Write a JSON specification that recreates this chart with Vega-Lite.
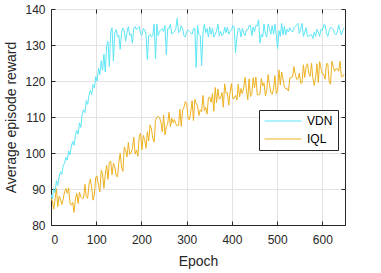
{
 "$schema": "https://vega.github.io/schema/vega-lite/v6.json",
 "width": 294, "height": 216,
 "autosize": {"type": "none"},
 "padding": {"left": 51, "top": 9, "right": 36, "bottom": 48},
 "config": {
  "font": "Liberation Sans",
  "view": {"stroke": "#262626", "strokeWidth": 1},
  "axis": {"gridColor": "#e3e3e3", "gridWidth": 1, "domainColor": "#262626", "tickColor": "#262626", "labelColor": "#262626", "titleColor": "#262626", "labelFontSize": 12, "titleFontSize": 14, "titleFontWeight": "normal", "tickSize": -4}
 },
 "data": {"values": [
{"e":0,"VDN":88.5,"IQL":87.5},{"e":3,"VDN":87.2,"IQL":86.6},{"e":6,"VDN":90.1,"IQL":84.4},{"e":9,"VDN":89.0,"IQL":87.3},{"e":12,"VDN":92.3,"IQL":90.1},{"e":15,"VDN":91.0,"IQL":85.1},{"e":18,"VDN":93.4,"IQL":88.0},{"e":21,"VDN":94.8,"IQL":87.2},{"e":24,"VDN":94.0,"IQL":85.7},{"e":27,"VDN":96.5,"IQL":87.2},
{"e":30,"VDN":97.2,"IQL":89.3},{"e":33,"VDN":98.8,"IQL":90.1},{"e":36,"VDN":98.0,"IQL":88.8},{"e":39,"VDN":100.6,"IQL":90.3},{"e":42,"VDN":99.5,"IQL":86.1},{"e":45,"VDN":101.9,"IQL":85.5},{"e":48,"VDN":103.2,"IQL":86.3},{"e":51,"VDN":102.1,"IQL":83.5},{"e":54,"VDN":105.0,"IQL":87.2},{"e":57,"VDN":106.3,"IQL":88.8},
{"e":60,"VDN":105.2,"IQL":86.0},{"e":63,"VDN":108.4,"IQL":89.1},{"e":66,"VDN":107.1,"IQL":87.8},{"e":69,"VDN":110.8,"IQL":87.3},{"e":72,"VDN":112.0,"IQL":87.5},{"e":75,"VDN":111.2,"IQL":91.3},{"e":78,"VDN":114.6,"IQL":87.9},{"e":81,"VDN":113.5,"IQL":87.4},{"e":84,"VDN":116.0,"IQL":91.2},{"e":87,"VDN":117.4,"IQL":92.8},
{"e":90,"VDN":116.2,"IQL":90.2},{"e":93,"VDN":119.0,"IQL":86.9},{"e":96,"VDN":118.1,"IQL":88.6},{"e":99,"VDN":121.2,"IQL":93.3},{"e":102,"VDN":120.0,"IQL":93.6},{"e":105,"VDN":123.5,"IQL":91.0},{"e":108,"VDN":121.8,"IQL":89.2},{"e":111,"VDN":125.6,"IQL":95.2},{"e":114,"VDN":123.0,"IQL":94.2},{"e":117,"VDN":127.4,"IQL":90.2},
{"e":120,"VDN":122.5,"IQL":94.1},{"e":123,"VDN":129.9,"IQL":96.6},{"e":126,"VDN":131.0,"IQL":92.7},{"e":129,"VDN":124.0,"IQL":97.4},{"e":132,"VDN":133.6,"IQL":97.8},{"e":135,"VDN":134.8,"IQL":93.9},{"e":138,"VDN":125.5,"IQL":97.2},{"e":141,"VDN":133.5,"IQL":96.2},{"e":144,"VDN":134.3,"IQL":93.7},{"e":147,"VDN":132.3,"IQL":93.4},
{"e":150,"VDN":132.7,"IQL":97.4},{"e":153,"VDN":128.8,"IQL":99.9},{"e":156,"VDN":133.5,"IQL":96.0},{"e":159,"VDN":134.7,"IQL":94.9},{"e":162,"VDN":133.9,"IQL":101.7},{"e":165,"VDN":131.0,"IQL":100.7},{"e":168,"VDN":133.5,"IQL":98.9},{"e":171,"VDN":135.1,"IQL":102.9},{"e":174,"VDN":132.7,"IQL":99.6},{"e":177,"VDN":133.1,"IQL":100.0},
{"e":180,"VDN":130.5,"IQL":101.2},{"e":183,"VDN":134.7,"IQL":104.4},{"e":186,"VDN":135.1,"IQL":99.7},{"e":189,"VDN":134.3,"IQL":100.8},{"e":192,"VDN":134.7,"IQL":99.1},{"e":195,"VDN":135.1,"IQL":104.5},{"e":198,"VDN":133.1,"IQL":105.5},{"e":201,"VDN":132.6,"IQL":100.9},{"e":204,"VDN":134.6,"IQL":104.9},{"e":207,"VDN":134.2,"IQL":103.7},
{"e":210,"VDN":133.0,"IQL":101.3},{"e":213,"VDN":126.0,"IQL":105.9},{"e":216,"VDN":132.6,"IQL":103.3},{"e":219,"VDN":133.0,"IQL":107.8},{"e":222,"VDN":132.2,"IQL":106.7},{"e":225,"VDN":132.6,"IQL":104.1},{"e":228,"VDN":135.8,"IQL":103.0},{"e":231,"VDN":126.2,"IQL":109.0},{"e":234,"VDN":135.8,"IQL":109.9},{"e":237,"VDN":132.6,"IQL":110.2},
{"e":240,"VDN":133.8,"IQL":109.8},{"e":243,"VDN":134.2,"IQL":108.6},{"e":246,"VDN":134.6,"IQL":105.9},{"e":249,"VDN":133.8,"IQL":110.5},{"e":252,"VDN":135.4,"IQL":105.0},{"e":255,"VDN":127.3,"IQL":107.3},{"e":258,"VDN":134.6,"IQL":108.2},{"e":261,"VDN":134.6,"IQL":111.3},{"e":264,"VDN":135.8,"IQL":107.3},{"e":267,"VDN":133.0,"IQL":109.7},
{"e":270,"VDN":133.4,"IQL":108.4},{"e":273,"VDN":133.8,"IQL":109.3},{"e":276,"VDN":134.6,"IQL":108.1},{"e":279,"VDN":137.4,"IQL":107.5},{"e":282,"VDN":133.4,"IQL":107.7},{"e":285,"VDN":133.8,"IQL":112.2},{"e":288,"VDN":135.4,"IQL":107.4},{"e":291,"VDN":134.6,"IQL":111.9},{"e":294,"VDN":132.6,"IQL":112.7},{"e":297,"VDN":132.2,"IQL":114.3},
{"e":300,"VDN":133.8,"IQL":113.8},{"e":303,"VDN":134.2,"IQL":109.7},{"e":306,"VDN":133.8,"IQL":109.2},{"e":309,"VDN":133.4,"IQL":111.4},{"e":312,"VDN":133.0,"IQL":114.5},{"e":315,"VDN":134.6,"IQL":109.0},{"e":318,"VDN":134.6,"IQL":114.9},{"e":321,"VDN":123.8,"IQL":113.7},{"e":324,"VDN":135.4,"IQL":113.1},{"e":327,"VDN":133.0,"IQL":110.4},
{"e":330,"VDN":132.6,"IQL":112.0},{"e":333,"VDN":124.3,"IQL":111.5},{"e":336,"VDN":133.4,"IQL":116.0},{"e":339,"VDN":135.8,"IQL":111.8},{"e":342,"VDN":133.4,"IQL":112.7},{"e":345,"VDN":134.6,"IQL":110.8},{"e":348,"VDN":132.2,"IQL":115.3},{"e":351,"VDN":135.0,"IQL":115.5},{"e":354,"VDN":133.0,"IQL":114.1},{"e":357,"VDN":134.6,"IQL":116.5},
{"e":360,"VDN":132.2,"IQL":111.6},{"e":363,"VDN":133.0,"IQL":118.2},{"e":366,"VDN":133.8,"IQL":114.0},{"e":369,"VDN":135.8,"IQL":117.8},{"e":372,"VDN":132.6,"IQL":115.0},{"e":375,"VDN":133.8,"IQL":115.2},{"e":378,"VDN":132.6,"IQL":116.8},{"e":381,"VDN":133.0,"IQL":112.7},{"e":384,"VDN":135.0,"IQL":119.2},{"e":387,"VDN":133.4,"IQL":116.6},
{"e":390,"VDN":135.0,"IQL":116.7},{"e":393,"VDN":133.0,"IQL":113.3},{"e":396,"VDN":133.8,"IQL":117.0},{"e":399,"VDN":134.2,"IQL":119.3},{"e":402,"VDN":135.4,"IQL":115.1},{"e":405,"VDN":135.0,"IQL":115.2},{"e":408,"VDN":127.8,"IQL":116.0},{"e":411,"VDN":132.2,"IQL":114.7},{"e":414,"VDN":134.6,"IQL":119.1},{"e":417,"VDN":134.6,"IQL":115.6},
{"e":420,"VDN":132.2,"IQL":117.9},{"e":423,"VDN":134.6,"IQL":116.5},{"e":426,"VDN":133.4,"IQL":118.1},{"e":429,"VDN":132.6,"IQL":121.0},{"e":432,"VDN":134.2,"IQL":117.5},{"e":435,"VDN":134.2,"IQL":114.8},{"e":438,"VDN":135.4,"IQL":120.6},{"e":441,"VDN":135.4,"IQL":115.7},{"e":444,"VDN":132.6,"IQL":116.5},{"e":447,"VDN":135.0,"IQL":120.9},
{"e":450,"VDN":133.8,"IQL":118.1},{"e":453,"VDN":135.4,"IQL":121.1},{"e":456,"VDN":135.4,"IQL":116.2},{"e":459,"VDN":137.0,"IQL":116.2},{"e":462,"VDN":130.5,"IQL":116.3},{"e":465,"VDN":133.0,"IQL":120.7},{"e":468,"VDN":132.2,"IQL":118.6},{"e":471,"VDN":135.8,"IQL":119.5},{"e":474,"VDN":133.0,"IQL":115.9},{"e":477,"VDN":132.2,"IQL":117.4},
{"e":480,"VDN":135.8,"IQL":121.8},{"e":483,"VDN":134.6,"IQL":119.0},{"e":486,"VDN":133.0,"IQL":116.9},{"e":489,"VDN":135.4,"IQL":116.3},{"e":492,"VDN":133.0,"IQL":117.8},{"e":495,"VDN":135.8,"IQL":121.5},{"e":498,"VDN":133.0,"IQL":116.5},{"e":501,"VDN":129.0,"IQL":117.3},{"e":504,"VDN":134.0,"IQL":123.1},{"e":507,"VDN":132.4,"IQL":118.9},
{"e":510,"VDN":136.0,"IQL":122.5},{"e":513,"VDN":132.8,"IQL":120.5},{"e":516,"VDN":135.2,"IQL":118.4},{"e":519,"VDN":132.8,"IQL":117.8},{"e":522,"VDN":134.4,"IQL":117.9},{"e":525,"VDN":133.6,"IQL":117.2},{"e":528,"VDN":134.8,"IQL":120.9},{"e":531,"VDN":134.0,"IQL":121.0},{"e":534,"VDN":133.6,"IQL":121.1},{"e":537,"VDN":134.8,"IQL":124.0},
{"e":540,"VDN":135.2,"IQL":121.9},{"e":543,"VDN":135.6,"IQL":120.5},{"e":546,"VDN":136.0,"IQL":120.6},{"e":549,"VDN":133.2,"IQL":122.2},{"e":552,"VDN":134.4,"IQL":119.4},{"e":555,"VDN":136.0,"IQL":119.4},{"e":558,"VDN":132.4,"IQL":124.5},{"e":561,"VDN":133.6,"IQL":121.0},{"e":564,"VDN":134.8,"IQL":124.0},{"e":567,"VDN":132.4,"IQL":124.8},
{"e":570,"VDN":132.4,"IQL":122.1},{"e":573,"VDN":132.8,"IQL":121.3},{"e":576,"VDN":132.8,"IQL":125.0},{"e":579,"VDN":131.8,"IQL":120.8},{"e":582,"VDN":133.6,"IQL":118.8},{"e":585,"VDN":132.4,"IQL":121.0},{"e":588,"VDN":134.4,"IQL":124.8},{"e":591,"VDN":133.6,"IQL":119.6},{"e":594,"VDN":132.4,"IQL":125.4},{"e":597,"VDN":134.4,"IQL":123.4},
{"e":600,"VDN":134.0,"IQL":121.9},{"e":603,"VDN":135.6,"IQL":121.9},{"e":606,"VDN":135.6,"IQL":120.5},{"e":609,"VDN":133.2,"IQL":124.8},{"e":612,"VDN":132.4,"IQL":124.8},{"e":615,"VDN":134.0,"IQL":119.8},{"e":618,"VDN":134.8,"IQL":119.1},{"e":621,"VDN":134.8,"IQL":125.5},{"e":624,"VDN":134.4,"IQL":124.1},{"e":627,"VDN":133.2,"IQL":122.7},
{"e":630,"VDN":132.8,"IQL":123.4},{"e":633,"VDN":133.6,"IQL":123.4},{"e":636,"VDN":135.6,"IQL":122.7},{"e":639,"VDN":134.0,"IQL":125.5},{"e":642,"VDN":132.8,"IQL":121.2},{"e":645,"VDN":134.0,"IQL":121.2},{"e":648,"VDN":134.8,"IQL":121.9}
 ]},
 "transform": [{"fold": ["VDN", "IQL"], "as": ["series", "reward"]}],
 "layer": [
  {
   "mark": {"type": "line", "strokeWidth": 1, "clip": true},
   "encoding": {
    "x": {"field": "e", "type": "quantitative", "scale": {"domain": [0, 650], "nice": false},
          "axis": {"orient": "bottom", "title": "Epoch", "values": [0,100,200,300,400,500,600], "grid": true, "labelPadding": 13, "titlePadding": 9}},
    "y": {"field": "reward", "type": "quantitative", "scale": {"domain": [80, 140], "nice": false, "zero": false},
          "axis": {"orient": "left", "title": "Average episode reward", "values": [80,90,100,110,120,130,140], "grid": true, "labelPadding": 10, "titlePadding": 6}},
    "color": {"field": "series", "type": "nominal", "scale": {"domain": ["VDN", "IQL"], "range": ["#5CE6F6", "#EDB120"]},
              "legend": {"orient": "none", "legendX": 208, "legendY": 101, "title": null, "direction": "vertical",
                         "strokeColor": "#262626", "fillColor": "white", "padding": 5, "symbolType": "M-1,0L1,0", "symbolSize": 1369,
                         "clipHeight": 12, "symbolStrokeWidth": 1, "labelFontSize": 12, "labelColor": "#000000", "rowPadding": 6, "labelOffset": 5}}
   }
  },
  {
   "mark": {"type": "point", "opacity": 0},
   "encoding": {
    "x": {"field": "e", "type": "quantitative", "axis": {"orient": "top", "title": null, "labels": false, "grid": false, "domain": false, "values": [0,100,200,300,400,500,600]}},
    "y": {"field": "reward", "type": "quantitative", "axis": {"orient": "right", "title": null, "labels": false, "grid": false, "domain": false, "values": [80,90,100,110,120,130,140]}}
   }
  }
 ],
 "resolve": {"axis": {"x": "independent", "y": "independent"}}
}
